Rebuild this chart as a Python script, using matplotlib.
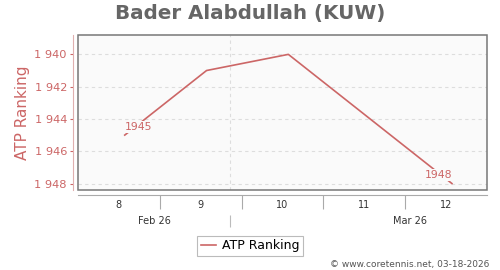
import numpy as np
import pandas as pd
import matplotlib
matplotlib.use('Agg')
import matplotlib.pyplot as plt
import matplotlib.dates as mdates
from matplotlib.ticker import FixedLocator, FuncFormatter, NullFormatter
from matplotlib.patches import Rectangle

# data
dates = pd.to_datetime(['2026-02-20', '2026-02-27', '2026-03-06', '2026-03-20'])
ranks = [1945, 1941, 1940, 1948]
week_bounds = pd.to_datetime(['2026-02-23', '2026-03-02', '2026-03-09', '2026-03-16'])
week_mids = pd.to_datetime(['2026-02-19 12:00', '2026-02-26 12:00', '2026-03-05 12:00',
                            '2026-03-12 12:00', '2026-03-19 12:00'])
week_labels = ['8', '9', '10', '11', '12']
month_bounds = pd.to_datetime(['2026-03-01'])
month_mids = pd.to_datetime(['2026-02-22 12:00', '2026-03-16 10:00'])
month_labels = ['Feb 26', 'Mar 26']
yticks = [1940, 1942, 1944, 1946, 1948]

line_col = '#cc6666'
W, H = 500, 270
px = 72 / 100  # points per pixel

fig = plt.figure(figsize=(5, 2.7), dpi=100)
ax = fig.add_axes([78/W, 1-190/H, 409/W, 155/H])
ax.set_facecolor('#fafafa')

ax.plot(dates, ranks, color=line_col, lw=1.2, zorder=3)
ax.set_xlim(pd.Timestamp('2026-02-16'), pd.Timestamp('2026-03-23'))
ax.set_ylim(1948.4, 1938.8)

# point labels at first and last value
for i, ha in [(0, 'left'), (len(ranks)-1, 'right')]:
    ax.annotate(str(ranks[i]), (dates[i], ranks[i]), xytext=(0, 8.3*px),
                textcoords='offset points', ha=ha, va='center', fontsize=7.8,
                color=line_col, zorder=4,
                bbox=dict(boxstyle='square,pad=0.1', fc='#fafafa', ec='none'))

# grid
for y in yticks:
    ax.axhline(y, color='#dddddd', lw=0.8, ls=(0, (3, 3)), zorder=1)
for d in month_bounds:
    ax.axvline(d, color='#dddddd', lw=0.8, ls=(0, (3, 3)), zorder=1)

# frame
for s in ax.spines.values():
    s.set_visible(False)
ax.add_patch(Rectangle((0, 0), 1, 1, transform=ax.transAxes, fill=False,
                       ec='#777777', lw=1.1, clip_on=False, zorder=5))

# y axis
ax.spines['left'].set_visible(True)
ax.spines['left'].set_position(('outward', 5*px))
ax.spines['left'].set_color('#e0b0b0')
ax.set_yticks(yticks)
ax.yaxis.set_major_formatter(FuncFormatter(lambda v, p: f'{int(v):,}'.replace(',', ' ')))
ax.tick_params(axis='y', colors=line_col, labelsize=8.2, length=3*px, width=0.8, pad=3*px)
ax.set_ylabel('ATP Ranking', color=line_col, fontsize=11, labelpad=3)

# x axis: weeks
ax.spines['bottom'].set_visible(True)
ax.spines['bottom'].set_position(('outward', 5*px))
ax.spines['bottom'].set_color('#aaaaaa')
ax.xaxis.set_major_locator(FixedLocator(mdates.date2num(week_bounds)))
ax.xaxis.set_major_formatter(NullFormatter())
ax.xaxis.set_minor_locator(FixedLocator(mdates.date2num(week_mids)))
ax.xaxis.set_minor_formatter(FuncFormatter(lambda v, p: week_labels[p]))
ax.tick_params(axis='x', which='major', length=14*px, width=0.8, color='#aaaaaa')
ax.tick_params(axis='x', which='minor', length=0, pad=5*px, labelsize=7, labelcolor='#333333')

# x axis: months
sec = ax.secondary_xaxis('bottom')
sec.spines['bottom'].set_position(('outward', 25*px))
sec.spines['bottom'].set_visible(False)
sec.xaxis.set_major_locator(FixedLocator(mdates.date2num(month_bounds)))
sec.xaxis.set_major_formatter(NullFormatter())
sec.xaxis.set_minor_locator(FixedLocator(mdates.date2num(month_mids)))
sec.xaxis.set_minor_formatter(FuncFormatter(lambda v, p: month_labels[p]))
sec.tick_params(axis='x', which='major', length=12*px, width=0.8, color='#bbbbbb')
sec.tick_params(axis='x', which='minor', length=0, pad=0.5, labelsize=7, labelcolor='#333333')

fig.text(0.5, 1-13/H, 'Bader Alabdullah (KUW)', ha='center', va='center',
         fontsize=14.3, fontweight='bold', color='#666666')

leg = fig.legend(ax.lines[:1], ['ATP Ranking'], loc='center',
                 bbox_to_anchor=(0.5, 1-246/H), fontsize=9, fancybox=False,
                 edgecolor='#bbbbbb', handlelength=1.2, handletextpad=0.5,
                 borderpad=0.3, framealpha=1)
leg.get_frame().set_linewidth(0.8)

fig.text(489/W, 1-264/H, '\u00a9 www.coretennis.net, 03-18-2026', ha='right',
         va='center', fontsize=6.5, color='#555555')

fig.savefig('out.png', dpi=100)
